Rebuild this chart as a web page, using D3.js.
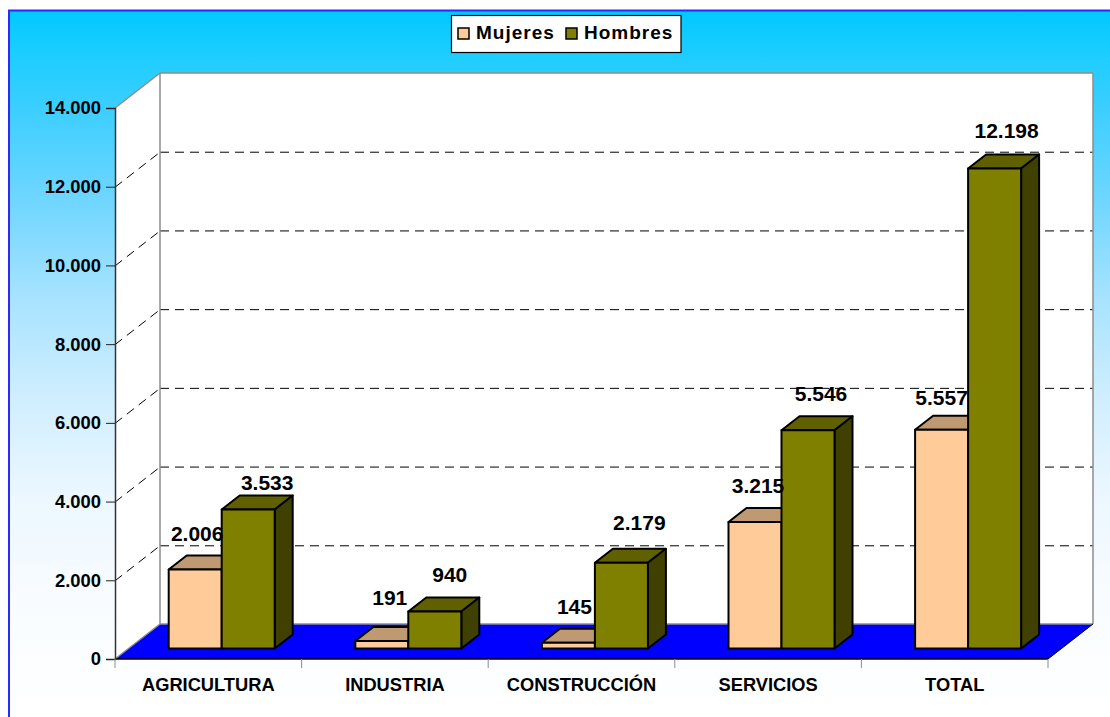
<!DOCTYPE html>
<html><head><meta charset="utf-8">
<script src="https://cdn.jsdelivr.net/npm/d3@7"></script>
<style>html,body{margin:0;padding:0;background:#fff;overflow:hidden}svg{display:block}text{font-family:"Liberation Sans",Arial,sans-serif;font-weight:bold;fill:#000}</style>
</head><body><svg id="c" width="1110" height="717"></svg>
<script>
const categories = ["AGRICULTURA","INDUSTRIA","CONSTRUCCIÓN","SERVICIOS","TOTAL"];
const mujeres = [2006,191,145,3215,5557];
const hombres = [3533,940,2179,5546,12198];
const seriesNames = ["Mujeres","Hombres"];
const yTicks = [0,2000,4000,6000,8000,10000,12000,14000];
// manually placed labels in the original: offset from bar's top-centre
const nudgeMujeres = [[2,-36],[8,-43],[6,-36],[3,-36],[0,-32]];
const nudgeHombres = [[19,-27],[15,-37],[18,-40],[13,-37],[12,-38]];

const fmt = v => d3.format(",")(v).replace(/,/g,".");
const svg = d3.select("#c");
const defs = svg.append("defs");
const g = defs.append("linearGradient").attr("id","bg").attr("gradientUnits","userSpaceOnUse")
  .attr("x1",0).attr("y1",10).attr("x2",0).attr("y2",717);
[[0,"#00c8ff"],[0.06,"#1ccdff"],[0.13,"#38ceff"],[0.27,"#70d6ff"],[0.41,"#a8e3ff"],[0.55,"#d0eeff"],[0.69,"#ecf7ff"],[0.83,"#f8fcff"],[1,"#ffffff"]]
  .forEach(s=>g.append("stop").attr("offset",s[0]).attr("stop-color",s[1]));

svg.append("rect").attr("x",9).attr("y",10.5).attr("width",1110).attr("height",720)
  .attr("fill","url(#bg)").attr("stroke","#2a2aff").attr("stroke-width",2);

const depthX = 45, depthY = -35;
const x = d3.scaleBand().domain(categories).range([115,1048]);
const y = d3.scaleLinear().domain([0,14000]).range([659,108]);
const x0 = 115, x1 = 1048, yb = y(0), yt = y(14000);

const poly = (pts,fill,stroke,sw) => svg.append("polygon").attr("points",pts.map(p=>p.join(",")).join(" "))
  .attr("fill",fill).attr("stroke",stroke||"none").attr("stroke-width",sw||0);
poly([[x0+depthX,yt+depthY],[x1+depthX,yt+depthY],[x1+depthX,yb+depthY],[x0+depthX,yb+depthY]],"#fff");
poly([[x0,yt],[x0+depthX,yt+depthY],[x0+depthX,yb+depthY],[x0,yb]],"#fff");
poly([[x0,yb],[x1,yb],[x1+depthX,yb+depthY],[x0+depthX,yb+depthY]],"#0000ff");

const line=(a,b,c,d,col,w,dash)=>svg.append("line").attr("x1",a).attr("y1",b).attr("x2",c).attr("y2",d)
  .attr("stroke",col).attr("stroke-width",w).attr("stroke-dasharray",dash||null);

yTicks.slice(1,-1).forEach(t=>{
  const yy=y(t)+0.5;
  line(x0,yy,x0+depthX,yy+depthY,"#000",1,"9 6");
  line(x0+depthX,yy+depthY,x1+depthX,yy+depthY,"#000",1,"9 6");
});
const G="#8c8c8c";
line(x0+depthX,yt+depthY,x1+depthX,yt+depthY,G,1.5);
line(x0,yt,x0+depthX,yt+depthY,G,1.5);
line(x0+depthX,yt+depthY,x0+depthX,yb+depthY,G,1.5);
line(x1+depthX,yt+depthY,x1+depthX,yb+depthY,G,1.5);
line(x0+depthX,yb+depthY,x1+depthX,yb+depthY,G,1.5);
line(x0,yb,x0+depthX,yb+depthY,G,1.5);
line(x1,yb,x1+depthX,yb+depthY,"#000",1);
line(x0,yb,x1,yb,"#000",1.5);

const axY = svg.append("g").attr("transform",`translate(${x0},0)`)
  .call(d3.axisLeft(y).tickValues(yTicks).tickFormat(fmt).tickSize(9).tickPadding(5));
axY.select(".domain").attr("stroke","#333").attr("stroke-width",1.5);
axY.selectAll("line").attr("stroke","#222").attr("stroke-width",1);
axY.selectAll("text").attr("font-size",18.4).attr("font-family",null);

const axX = svg.append("g").attr("transform",`translate(0,${yb})`)
  .call(d3.axisBottom(x).tickSize(0).tickPadding(19));
axX.select(".domain").remove();
axX.selectAll("text").attr("font-size",18.3).attr("font-family",null);
[...categories.map(c=>x(c)),x1].forEach(px=>line(px,yb,px,yb+9,G,1));

const frontDy = -10.5, barDx = 18, barDy = -14, barW = 53;
const inner = d3.scaleBand().domain(seriesNames).range([0,2*barW]);
const colors = {Mujeres:["#ffcc99","#bf9972","#7f664c"],Hombres:["#808000","#606000","#404000"]};
const barLeftPad = 53.7;
function bar(cat,name,v){
  const c = colors[name];
  const l = x(cat)+barLeftPad+inner(name), r = l+barW;
  const b = y(0)+frontDy, t = b-(y(0)-y(v));
  const s="#000",w=2;
  poly([[l,t],[l+barDx,t+barDy],[r+barDx,t+barDy],[r,t]],c[1],s,w).attr("stroke-linejoin","round");
  poly([[r,t],[r+barDx,t+barDy],[r+barDx,b+barDy],[r,b]],c[2],s,w).attr("stroke-linejoin","round");
  poly([[l,t],[r,t],[r,b],[l,b]],c[0],s,w).attr("stroke-linejoin","round");
}
categories.forEach((cat,i)=>{ bar(cat,"Mujeres",mujeres[i]); bar(cat,"Hombres",hombres[i]); });

function vlabel(cat,name,v,n){
  const l = x(cat)+barLeftPad+inner(name);
  svg.append("text").attr("x",l+barW/2+n[0]).attr("y",y(0)+frontDy-(y(0)-y(v))+n[1])
    .attr("text-anchor","middle").attr("dominant-baseline","central").attr("font-size",21).text(fmt(v));
}
categories.forEach((cat,i)=>{
  vlabel(cat,"Mujeres",mujeres[i],nudgeMujeres[i]);
  vlabel(cat,"Hombres",hombres[i],nudgeHombres[i]);
});

svg.append("rect").attr("x",451.5).attr("y",15.5).attr("width",229.5).attr("height",37)
  .attr("fill","#fff").attr("stroke","#000").attr("stroke-width",1.2);
const legendX = d3.scaleOrdinal().domain(seriesNames).range([458,566]);
seriesNames.forEach(n=>{
  const lx=legendX(n);
  svg.append("rect").attr("x",lx).attr("y",28).attr("width",11).attr("height",11)
    .attr("fill",colors[n][0]).attr("stroke","#000").attr("stroke-width",1.5);
  svg.append("text").attr("x",lx+18).attr("y",39).attr("font-size",19).attr("letter-spacing",1).text(n);
});
</script></body></html>
